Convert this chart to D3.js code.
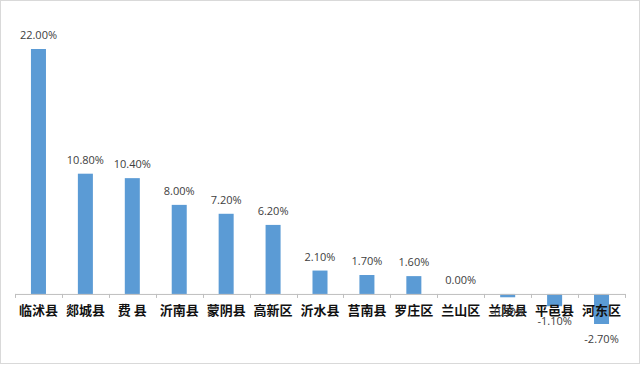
<!DOCTYPE html>
<html><head><meta charset="utf-8">
<script src="https://cdn.jsdelivr.net/npm/d3@7/dist/d3.min.js"></script>
<style>body{margin:0;background:#fff;}svg{display:block;}</style>
</head><body>
<svg id="c" width="640" height="365"></svg>
<script>
const categories = ["临沭县","郯城县","费 县","沂南县","蒙阴县","高新区","沂水县","莒南县","罗庄区","兰山区","兰陵县","平邑县","河东区"];
const values = [22.0, 10.8, 10.4, 8.0, 7.2, 6.2, 2.1, 1.7, 1.6, 0.0, -0.3, -1.1, -2.7];
const labels = ["22.00%","10.80%","10.40%","8.00%","7.20%","6.20%","2.10%","1.70%","1.60%","0.00%","-0.30%","-1.10%","-2.70%"];

const svg = d3.select("#c");
svg.append("rect").attr("x",0.5).attr("y",0.5).attr("width",639).attr("height",363)
  .attr("fill","#fff").attr("stroke","#d9d9d9");

const x = d3.scaleBand().domain(categories).range([15, 625]).paddingInner(0.68).paddingOuter(0.34);
const y = d3.scaleLinear().domain([-2.7, 22]).range([324, 49]);

const g = svg.append("g");
g.selectAll("rect.bar").data(values).enter().append("rect")
  .attr("class","bar")
  .attr("x",(d,i)=>x(categories[i]))
  .attr("width",x.bandwidth())
  .attr("y",d=>Math.min(y(d),y(0)))
  .attr("height",d=>Math.abs(y(d)-y(0)))
  .attr("fill","#5b9bd5");

// axis
const step = 610/categories.length;
const ax = svg.append("g");
ax.append("line").attr("x1",15).attr("x2",625).attr("y1",y(0)+0.5).attr("y2",y(0)+0.5)
  .attr("stroke","#bfbfbf").attr("stroke-width",1);
d3.range(categories.length+1).forEach(i=>{
  const xx = Math.round(15+i*step)+0.5;
  ax.append("line").attr("x1",xx).attr("x2",xx).attr("y1",y(0)).attr("y2",y(0)+4)
    .attr("stroke","#bfbfbf");
});

svg.selectAll("text.cat").data(categories).enter().append("text")
  .attr("class","cat")
  .attr("x",(d)=>x(d)+x.bandwidth()/2)
  .attr("y",315)
  .attr("text-anchor","middle")
  .attr("font-family","'Noto Sans CJK SC', sans-serif")
  .attr("font-weight","bold")
  .attr("font-size",13)
  .attr("fill","#111")
  .text(d=>d);

svg.selectAll("text.val").data(values).enter().append("text")
  .attr("class","val")
  .attr("x",(d,i)=>x(categories[i])+x.bandwidth()/2)
  .attr("y",d=> d>=0 ? y(d)-10 : y(d)+19)
  .attr("text-anchor","middle")
  .attr("font-family","'Open Sans', 'DejaVu Sans', sans-serif")
  .attr("font-size",11)
  .attr("fill","#404040")
  .text((d,i)=>labels[i]);
</script>
</body></html>
